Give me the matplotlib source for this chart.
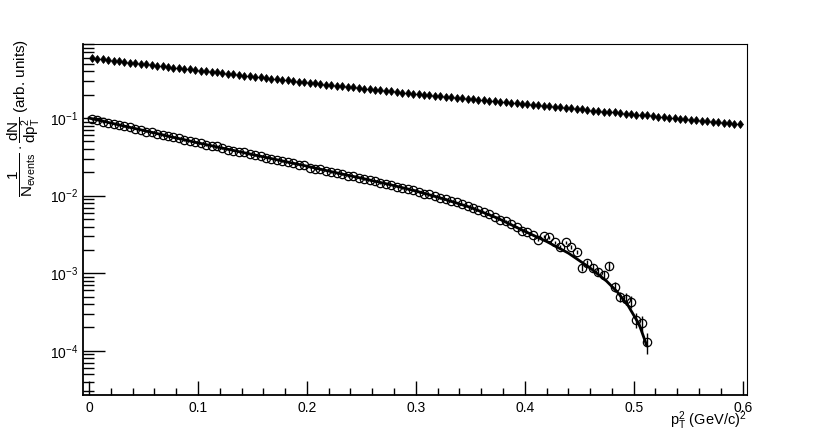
import numpy as np
import matplotlib
matplotlib.use("Agg")
from matplotlib import pyplot as plt
from matplotlib.ticker import LogLocator, MultipleLocator, NullFormatter

# upper spectrum (filled thin diamonds), bin centres every 0.005
diam_x = [0.0025 + 0.005 * i for i in range(120)]
diam_y = [0.590, 0.579, 0.569, 0.558, 0.548, 0.538, 0.528, 0.519, 0.509, 0.500,
          0.491, 0.482, 0.473, 0.465, 0.456, 0.448, 0.440, 0.432, 0.424, 0.416,
          0.409, 0.401, 0.394, 0.387, 0.380, 0.373, 0.366, 0.359, 0.353, 0.346,
          0.340, 0.334, 0.328, 0.322, 0.316, 0.310, 0.305, 0.299, 0.294, 0.288,
          0.283, 0.279, 0.274, 0.270, 0.265, 0.261, 0.256, 0.252, 0.248, 0.244,
          0.240, 0.236, 0.232, 0.228, 0.224, 0.221, 0.217, 0.213, 0.210, 0.206,
          0.203, 0.200, 0.197, 0.194, 0.191, 0.188, 0.185, 0.183, 0.180, 0.177,
          0.175, 0.172, 0.169, 0.167, 0.164, 0.162, 0.159, 0.157, 0.155, 0.152,
          0.150, 0.148, 0.146, 0.143, 0.141, 0.139, 0.137, 0.135, 0.133, 0.131,
          0.129, 0.127, 0.125, 0.123, 0.121, 0.120, 0.118, 0.116, 0.114, 0.113,
          0.111, 0.109, 0.108, 0.106, 0.104, 0.103, 0.101, 0.0995, 0.0980, 0.0965,
          0.0950, 0.0935, 0.0921, 0.0907, 0.0893, 0.0879, 0.0865, 0.0852, 0.0839, 0.0826]

# lower spectrum (open circles)
circ_x = [0.0025 + 0.005 * i for i in range(103)]
circ_y = [0.096, 0.095, 0.089, 0.087, 0.085, 0.082, 0.078, 0.076, 0.073, 0.071,
          0.067, 0.066, 0.063, 0.060, 0.059, 0.057, 0.055, 0.052, 0.051, 0.049,
          0.047, 0.045, 0.044, 0.043, 0.041, 0.039, 0.038, 0.037, 0.036, 0.034,
          0.033, 0.032, 0.031, 0.030, 0.029, 0.028, 0.027, 0.026, 0.025, 0.0245,
          0.023, 0.022, 0.022, 0.021, 0.020, 0.0195, 0.019, 0.018, 0.0178, 0.017,
          0.0163, 0.0157, 0.0155, 0.0146, 0.0141, 0.0138, 0.0131, 0.0126, 0.0121, 0.0118,
          0.0111, 0.0106, 0.0104, 0.0099, 0.0093, 0.0091, 0.0085, 0.0082, 0.0077, 0.0073,
          0.0069, 0.0065, 0.0061, 0.0058, 0.0053, 0.0049, 0.0047, 0.0043, 0.0040, 0.0035,
          0.0034, 0.0031, 0.0027, 0.0030, 0.0029, 0.0025, 0.0022, 0.0025, 0.0022, 0.0019,
          0.00118, 0.00135, 0.00118, 0.00105, 0.00095, 0.00124, 0.00067, 0.00050, 0.00047, 0.00043,
          0.00025, 0.00023, 0.00013]
circ_rel_err = [0.02] * 80 + [0.03, 0.03, 0.04, 0.04, 0.04, 0.05, 0.05, 0.05, 0.06, 0.06,
                              0.10, 0.10, 0.11, 0.12, 0.12, 0.12, 0.14, 0.16, 0.17, 0.18,
                              0.22, 0.24, 0.30]

# fit curve through the lower spectrum
fit_x = [0.0, 0.025, 0.05, 0.075, 0.1, 0.125, 0.15, 0.175, 0.2, 0.225, 0.25, 0.275,
         0.3, 0.325, 0.35, 0.375, 0.4, 0.42, 0.44, 0.46, 0.475, 0.485, 0.495, 0.505, 0.512]
fit_y = [0.100, 0.0832, 0.0692, 0.0575, 0.0479, 0.0403, 0.0339, 0.0285, 0.0240, 0.0200,
         0.0168, 0.0140, 0.0115, 0.00912, 0.00708, 0.00513, 0.00347, 0.00257, 0.00182,
         0.00117, 0.000794, 0.000575, 0.000380, 0.000219, 0.000117]

plt.rcParams['font.family'] = ['Liberation Sans', 'DejaVu Sans']
plt.rcParams['mathtext.fontset'] = 'custom'
plt.rcParams['mathtext.rm'] = 'Liberation Sans'
plt.rcParams['mathtext.it'] = 'Liberation Sans'
plt.rcParams['mathtext.bf'] = 'Liberation Sans:bold'

fig = plt.figure(figsize=(8.3, 4.4), dpi=100)
ax = fig.add_axes([0.1, 0.1023, 0.8, 0.7977])

dy = np.array(diam_y)
ax.errorbar(diam_x, dy, yerr=dy * 0.07, fmt='d', color='black', markersize=4.5,
            markeredgewidth=0.5, elinewidth=1, capsize=0, zorder=3)

cy = np.array(circ_y)
ax.errorbar(circ_x, cy, yerr=cy * np.array(circ_rel_err), fmt='o', color='black',
            markerfacecolor='none', markeredgewidth=0.9, markersize=6,
            elinewidth=1, capsize=0, zorder=3)

ax.plot(fit_x, fit_y, color='black', linewidth=2, zorder=4)

ax.set_yscale('log')
ax.set_xlim(-0.0055, 0.604)
ax.set_ylim(2.7e-5, 0.9)

ax.xaxis.set_minor_locator(MultipleLocator(0.02))
ax.set_xticks([0, 0.1, 0.2, 0.3, 0.4, 0.5, 0.6])
ax.set_xticklabels(['0', '0.1', '0.2', '0.3', '0.4', '0.5', '0.6'])
ax.yaxis.set_major_locator(LogLocator(base=10, numticks=10))
ax.yaxis.set_minor_locator(LogLocator(base=10, subs=np.arange(2, 10), numticks=20))
ax.yaxis.set_minor_formatter(NullFormatter())

ax.tick_params(which='both', direction='in', top=False, right=False, labelsize=10, color='black')
ax.tick_params(axis='y', which='major', length=16, width=1)
ax.tick_params(axis='y', which='minor', length=8, width=1)
ax.tick_params(axis='x', which='major', length=10, width=1, pad=4)
ax.tick_params(axis='x', which='minor', length=5, width=1)

for s in ['left', 'bottom']:
    ax.spines[s].set_linewidth(1.3)
for s in ['top', 'right']:
    ax.spines[s].set_linewidth(0.8)

ax.set_ylabel(r'$\dfrac{1}{N_{events}}\cdot\dfrac{dN}{dp_{T}^{2}}$ (arb. units)', fontsize=11)
ax.yaxis.set_label_coords(-0.062, 0.79)

ax.set_xlabel(r'$p_{T}^{2}$ (GeV/c)$^{2}$', fontsize=10.5, ha='right')
ax.xaxis.set_label_coords(1.0, -0.04)

fig.savefig('out.png', dpi=100)
